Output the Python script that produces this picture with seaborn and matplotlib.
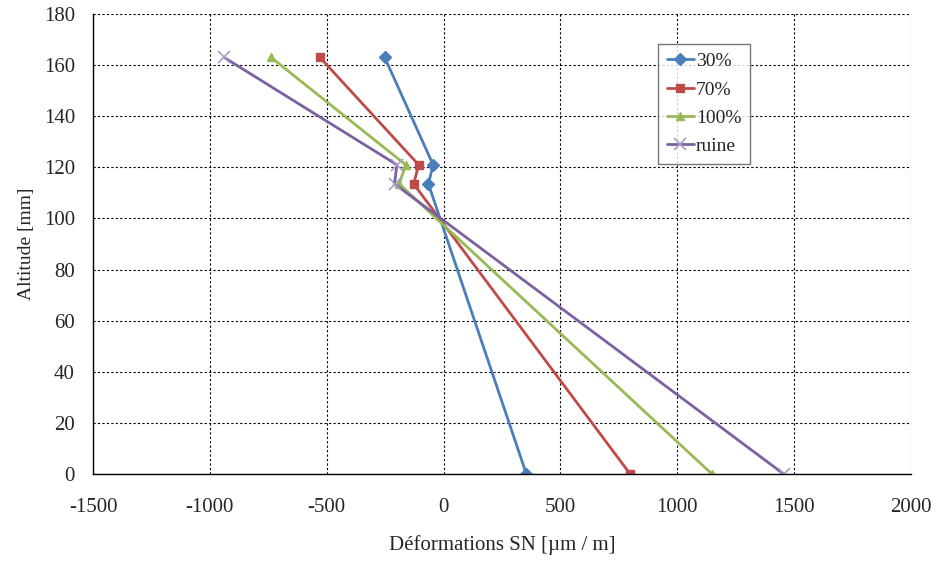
import matplotlib
matplotlib.use("Agg")
import matplotlib.pyplot as plt
import seaborn as sns
import pandas as pd

altitudes = [163, 121, 113.5, 0]
s30 = [-252, -45, -65, 354]
s70 = [-529, -107, -128, 798]
s100 = [-738, -162, -190, 1148]
ruine = [-939, -200, -210, 1455]
series_names = ["30%", "70%", "100%", "ruine"]
colors = ["#4A7EBB", "#BE4B48", "#98B954", "#7D60A0"]
markers = ["D", "s", "^", "x"]

rows = []
for name, vals in zip(series_names, [s30, s70, s100, ruine]):
    for a, v in zip(altitudes, vals):
        rows.append({"serie": name, "def": v, "alt": a})
df = pd.DataFrame(rows)

sns.set_style("white")
plt.rcParams["font.family"] = ["Liberation Serif", "DejaVu Serif"]
plt.rcParams["axes.unicode_minus"] = False

fig = plt.figure(figsize=(9.37, 5.61), dpi=100)
ax = fig.add_axes([0.0993, 0.1551, 0.8730, 0.8199])

for name, c, m in zip(series_names, colors, markers):
    d = df[df.serie == name]
    sns.lineplot(data=d, x="def", y="alt", sort=False, ax=ax, color=c,
                 marker=m, markersize=6 if m != "x" else 8,
                 markeredgecolor=c if m != "x" else "#A99BC8",
                 markeredgewidth=1 if m != "x" else 1.2,
                 linewidth=2, label=name, estimator=None)

ax.set_xlim(-1500, 2000)
ax.set_ylim(0, 180)
ax.set_xticks(range(-1500, 2001, 500))
ax.set_yticks(range(0, 181, 20))
ax.grid(True, color="black", linestyle=(0, (2, 2)), linewidth=0.8)
for s in ["top", "right"]:
    ax.spines[s].set_visible(False)
for s in ["left", "bottom"]:
    ax.spines[s].set_color("black")
    ax.spines[s].set_linewidth(1)
ax.tick_params(axis="both", labelsize=15, direction="out", length=5, color="black", width=1)
ax.tick_params(axis="x", pad=12)
ax.tick_params(axis="y", pad=8)
ax.set_xlabel("Déformations SN [µm / m]", fontsize=15, labelpad=13)
ax.set_ylabel("Altitude [mm]", fontsize=14, labelpad=6)

leg = ax.legend(loc="upper left", bbox_to_anchor=(0.6907, 0.935), fontsize=14,
                frameon=True, fancybox=False, edgecolor="#555555",
                handlelength=1.4, borderpad=0.45, labelspacing=0.55, handletextpad=0.1,
                markerscale=1.0, borderaxespad=0)
leg.get_frame().set_linewidth(1)

fig.savefig("out.png", dpi=100)
